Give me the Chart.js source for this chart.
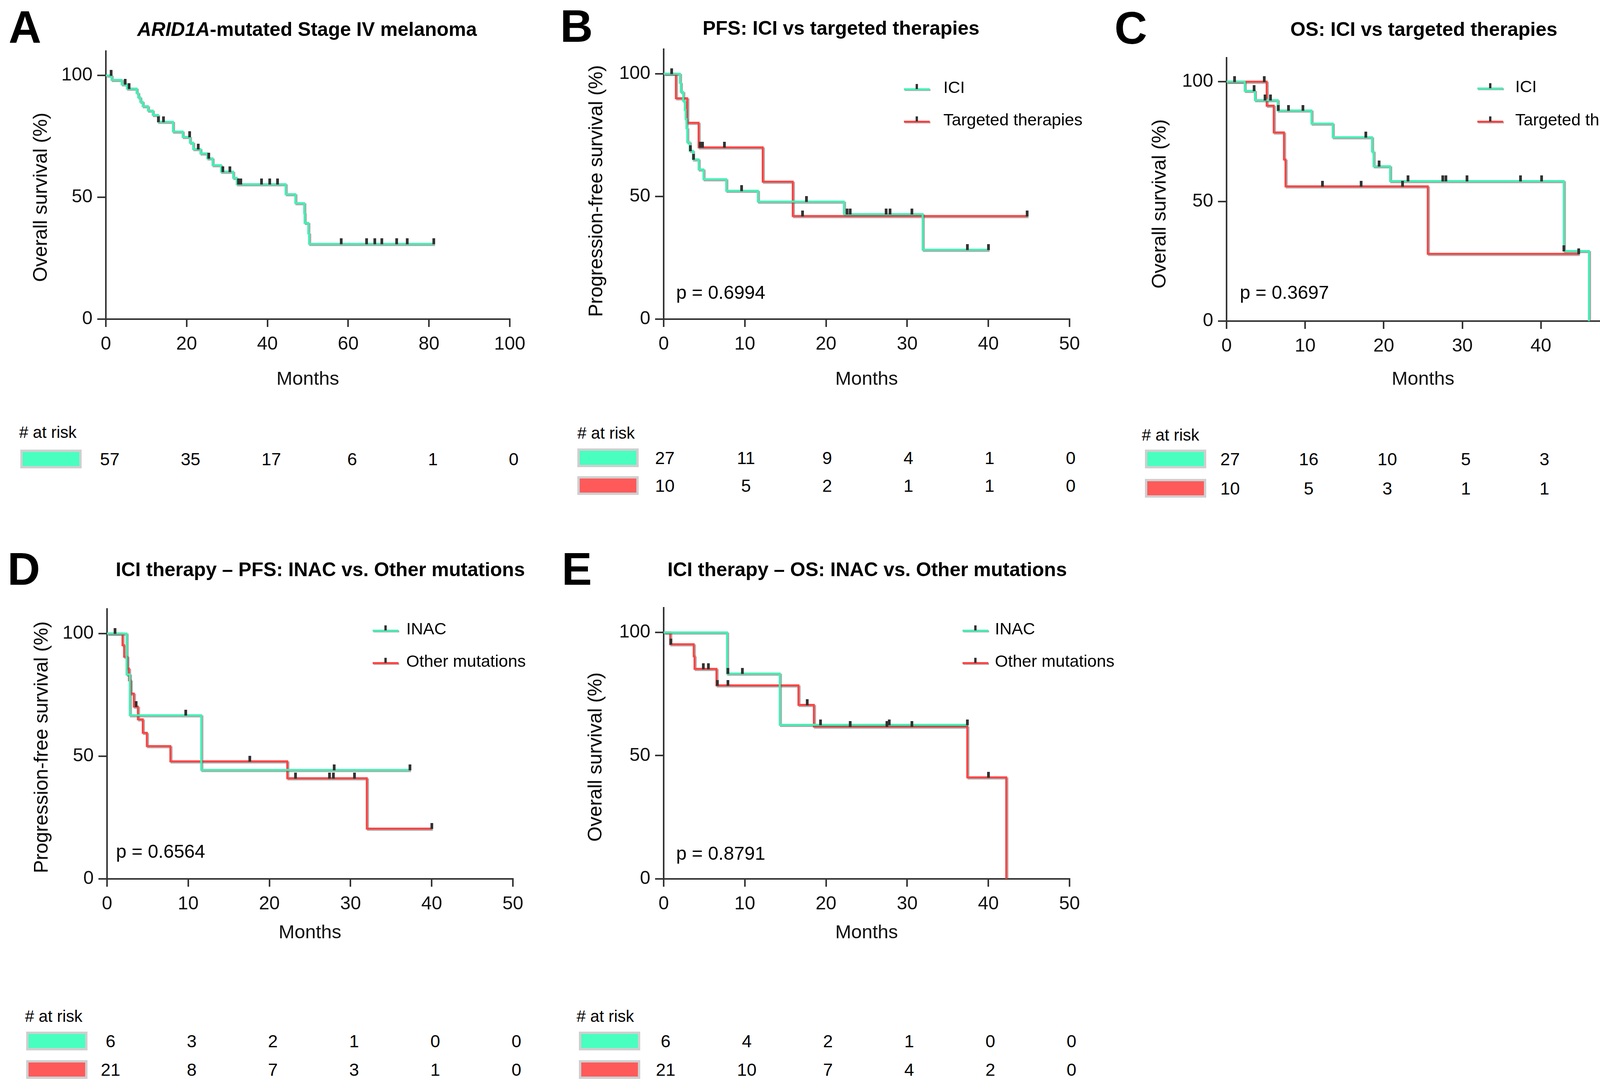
<!DOCTYPE html>
<html>
<head>
<meta charset="utf-8">
<script src="https://cdn.jsdelivr.net/npm/chart.js@4.4.1/dist/chart.umd.min.js"></script>
<style>
  html, body { margin: 0; padding: 0; background: #fff; }
  body { position: relative; width: 4255px; height: 2793px; overflow: hidden;
         font-family: "Liberation Sans", Arial, Helvetica, sans-serif; color: #000; }
  .box { position: absolute; }
  .t { position: absolute; line-height: 1; white-space: nowrap; }
</style>
</head>
<body>
<script>
/* Kaplan-Meier panels A-E, ARID1A melanoma */

// ─── Data (months / survival %) ───
// A: all patients, OS
const aTime = [0, 1.4, 3.9, 5.2, 7.6, 8.0, 8.5, 9.1, 10.4, 11.6, 12.9, 16.6, 19.0, 20.8, 21.6, 23.4, 25.1, 26.4, 28.5, 31.5, 32.4, 44.5, 46.9, 49.1, 49.2, 50.1, 50.3, 81.2];
const aSurv = [100, 98.2, 96.4, 94.6, 92.8, 91.0, 89.2, 87.4, 85.6, 83.8, 81.0, 77.0, 74.8, 72.4, 69.8, 68.0, 66.0, 63.2, 60.5, 58.0, 55.4, 51.3, 47.6, 43.5, 39.5, 35.2, 30.9, 30.9];
const aCens = [1.3, 4.8, 5.8, 13.0, 14.3, 20.7, 22.9, 25.5, 29.0, 30.7, 32.8, 33.4, 38.5, 40.6, 42.5, 58.3, 64.6, 66.6, 68.3, 72.0, 74.6, 81.2];

// B: PFS, ICI vs targeted
const bIciTime = [0, 2.0, 2.1, 2.4, 2.6, 2.7, 2.8, 2.9, 3.2, 3.6, 4.3, 4.9, 7.7, 11.6, 22.2, 31.9, 40.0];
const bIciSurv = [100, 96.3, 92.6, 88.9, 85.2, 81.5, 77.8, 72.1, 68.6, 65.1, 61.0, 57.0, 52.3, 47.9, 42.8, 28.3, 28.3];
const bIciCens = [1.0, 3.3, 3.7, 9.6, 17.6, 22.6, 23.0, 27.4, 27.9, 30.6, 37.4, 40.0];
const bTarTime = [0, 1.5, 2.9, 4.3, 12.2, 15.9, 44.8];
const bTarSurv = [100, 90, 80, 70, 56, 42, 42];
const bTarCens = [4.5, 4.8, 7.5, 17.1, 44.8];

// C: OS, ICI vs targeted
const cIciTime = [0, 2.3, 3.6, 6.5, 10.8, 13.5, 18.5, 18.7, 20.8, 42.9, 46.1];
const cIciSurv = [100, 96.2, 92.3, 88.0, 82.5, 76.8, 70.8, 64.7, 58.5, 29.3, 0];
const cIciCens = [1.0, 3.5, 4.9, 5.6, 6.6, 7.9, 9.7, 17.7, 19.4, 23.1, 27.5, 27.9, 30.6, 37.4, 40.1, 42.9];
const cTarTime = [0, 5.1, 6.0, 7.3, 7.5, 25.6, 44.8];
const cTarSurv = [100, 90, 78.8, 67.5, 56.3, 28.1, 28.1];
const cTarCens = [4.8, 12.2, 17.1, 22.4, 44.8];

// D: ICI PFS, INAC vs other mutations
const dInacTime = [0, 2.4, 2.8, 11.6, 37.3];
const dInacSurv = [100, 83.3, 66.7, 44.4, 44.4];
const dInacCens = [1.0, 9.7, 28.0, 37.3];
const dOthTime = [0, 1.9, 2.1, 2.5, 2.7, 2.9, 3.3, 3.8, 4.4, 4.9, 7.8, 22.2, 32.0, 40.0];
const dOthSurv = [100, 95.2, 90.5, 85.7, 80.9, 75.5, 70.2, 65.0, 59.5, 54.1, 47.9, 41.0, 20.5, 20.5];
const dOthCens = [3.6, 17.6, 23.2, 27.4, 27.9, 30.5, 40.0];

// E: ICI OS, INAC vs other mutations
const eInacTime = [0, 7.8, 14.3, 37.4];
const eInacSurv = [100, 83.3, 62.5, 62.5];
const eInacCens = [7.9, 9.7, 19.3, 27.8, 37.4];
const eOthTime = [0, 0.8, 3.7, 3.8, 6.5, 16.6, 18.5, 37.4, 42.2];
const eOthSurv = [100, 95.2, 90.3, 85.2, 78.5, 70.6, 61.8, 41.2, 0];
const eOthCens = [0.9, 4.9, 5.5, 6.6, 7.9, 17.7, 23.0, 27.5, 30.6, 40.0];

// numbers at risk (one value per x tick)
const riskA  = [57, 35, 17, 6, 1, 0];
const riskB1 = [27, 11, 9, 4, 1, 0];
const riskB2 = [10, 5, 2, 1, 1, 0];
const riskC1 = [27, 16, 10, 5, 3, 0];
const riskC2 = [10, 5, 3, 1, 1, 0];
const riskD1 = [6, 3, 2, 1, 0, 0];
const riskD2 = [21, 8, 7, 3, 1, 0];
const riskE1 = [6, 4, 2, 1, 0, 0];
const riskE2 = [21, 10, 7, 4, 2, 0];

const yTicks = [0, 50, 100];

// ─── Style ───
const FONT = '"Liberation Sans", Arial, Helvetica, sans-serif';
const GREEN = '#44f0b4', RED = '#ff4343';
const GREEN_SW = '#48ffc0', RED_SW = '#ff5a5a';
const AXIS = '#333';

// censor mark: short vertical bar sitting on the line
const tickImg = document.createElement('canvas');
tickImg.width = 7; tickImg.height = 28;
(function () {
  const c = tickImg.getContext('2d');
  c.fillStyle = '#333';
  c.fillRect(0, 0, 7, 15);
})();

// grey drop shadow under the curves
const shadowPlugin = {
  id: 'kmShadow',
  beforeDatasetDraw(chart, args) {
    if (!chart.data.datasets[args.index].shadow) return;
    const ctx = chart.ctx;
    ctx.save();
    ctx.shadowColor = 'rgba(95,95,95,0.55)';
    ctx.shadowOffsetX = 3;
    ctx.shadowOffsetY = 3;
    ctx.shadowBlur = 1;
  },
  afterDatasetDraw(chart, args) {
    if (chart.data.datasets[args.index].shadow) chart.ctx.restore();
  }
};

// ─── Helpers ───
function survAt(times, surv, t) {
  let v = surv[0];
  for (let i = 0; i < times.length; i++) if (times[i] <= t) v = surv[i];
  return v;
}

function txt(html, x, y, o = {}) {
  const d = document.createElement('div');
  d.className = 't';
  d.innerHTML = html;
  let tf = o.center ? 'translate(-50%,-50%)' : 'translateY(-50%)';
  if (o.rot) tf = 'translate(-50%,-50%) rotate(-90deg)';
  d.style.left = x + 'px';
  d.style.top = y + 'px';
  d.style.fontSize = (o.size || 48) + 'px';
  d.style.fontWeight = o.bold ? 'bold' : 'normal';
  d.style.transform = tf;
  document.body.appendChild(d);
}

function rect(x, y, w, h, bg, extra) {
  const d = document.createElement('div');
  d.className = 'box';
  d.style.cssText += `left:${x}px;top:${y}px;width:${w}px;height:${h}px;background:${bg};` + (extra || '');
  document.body.appendChild(d);
  return d;
}

function legend(x, tx, items) {
  items.forEach(it => {
    rect(x, it.y - 2.5, 66, 5, it.color, 'box-shadow:2px 2px 0 rgba(95,95,95,0.5);');
    rect(x + 30, it.y - 13, 6, 13, '#333');
    txt(it.label, tx, it.y - 5, { size: 43 });
  });
}

function swatch(x, cy, color) {
  const o = rect(x, cy - 24, 157, 48, '#cfcfcf');
  const i = document.createElement('div');
  i.style.cssText = `position:absolute;left:6px;top:6px;right:6px;bottom:6px;background:${color};`;
  o.appendChild(i);
}

// ─── Panel ───
function makePanel(p) {
  const YW = 150, PT = 40, PR = 70;
  const XH = p.gap + 29.4;
  const a = p.area;
  const left = a.l - YW, top = a.t - PT;

  const box = rect(left, top, a.r - a.l + YW + PR, a.b - a.t + PT + XH, 'transparent');
  const cv = document.createElement('canvas');
  box.appendChild(cv);

  const datasets = [];
  p.curves.forEach(cu => {
    datasets.push({
      data: cu.cens.map(c => ({ x: c, y: survAt(cu.time, cu.surv, c) })),
      showLine: false, pointStyle: tickImg, pointRadius: 3, order: 0
    });
  });
  p.curves.forEach((cu, i) => {
    datasets.push({
      data: cu.time.map((t, k) => ({ x: t, y: cu.surv[k] })),
      borderColor: cu.color, borderWidth: 5, stepped: true,
      pointRadius: 0, fill: false, shadow: true, order: 1 + i,
      borderCapStyle: 'butt', borderJoinStyle: 'miter'
    });
  });

  const chart = new Chart(cv, {
    type: 'line',
    data: { datasets },
    plugins: [shadowPlugin],
    options: {
      responsive: true, maintainAspectRatio: false, animation: false,
      devicePixelRatio: 1, events: [],
      layout: { padding: { top: PT, right: PR, left: 0, bottom: 0 } },
      plugins: { legend: { display: false }, tooltip: { enabled: false } },
      scales: {
        x: {
          type: 'linear', min: 0, max: p.xMax,
          ticks: { stepSize: p.xStep, color: '#111', font: { size: 48, family: FONT },
                   padding: 16, maxRotation: 0, autoSkip: false },
          grid: { display: true, drawOnChartArea: false, drawTicks: true, tickLength: 20,
                  color: AXIS, lineWidth: 4 },
          border: { display: true, color: AXIS, width: 4 },
          title: { display: true, text: 'Months', color: '#111',
                   font: { size: 49, family: FONT }, padding: 0 },
          afterFit: s => { s.height = XH; }
        },
        y: {
          type: 'linear', min: 0, max: 110,
          afterBuildTicks: s => { s.ticks = yTicks.map(v => ({ value: v })); },
          ticks: { color: '#111', font: { size: 48, family: FONT }, padding: 12 },
          grid: { display: true, drawOnChartArea: false, drawTicks: true, tickLength: 22,
                  color: AXIS, lineWidth: 4 },
          border: { display: true, color: AXIS, width: 4 },
          afterFit: s => { s.width = YW; }
        }
      }
    }
  });

  // text around the plot
  txt(p.letter, p.letterPos[0], p.letterPos[1], { size: 116, bold: true });
  txt(p.title, p.titlePos[0], p.titlePos[1], { size: 50, bold: true, center: true });
  txt(p.yTitle, p.yTitlePos[0], p.yTitlePos[1], { size: 50, rot: true });
  if (p.legend) legend(p.legend.x, p.legend.tx, p.legend.items);
  if (p.pval) txt(p.pval.text, p.pval.x, p.pval.y, { size: 48 });

  // numbers at risk, aligned on the x ticks
  const r = p.risk;
  txt('# at risk', r.hx, r.hy, { size: 42 });
  r.rows.forEach(row => {
    swatch(r.sx, row.y, row.color);
    row.vals.forEach((v, k) => {
      const px = left + chart.scales.x.getPixelForValue(k * p.xStep) + r.off;
      txt(String(v), px, row.y, { size: 45, center: true });
    });
  });
  return chart;
}

// ─── Build ───
makePanel({
  area: { l: 271, r: 1305, t: 130, b: 817 }, xMax: 100, xStep: 20, gap: 154,
  curves: [{ time: aTime, surv: aSurv, cens: aCens, color: GREEN }],
  letter: 'A', letterPos: [22, 70],
  title: '<i>ARID1A</i>-mutated Stage IV melanoma', titlePos: [786, 75],
  yTitle: 'Overall survival (%)', yTitlePos: [103, 505],
  risk: { hx: 49, hy: 1107, sx: 52, off: 10,
          rows: [{ vals: riskA, color: GREEN_SW, y: 1175 }] }
});

makePanel({
  area: { l: 1699, r: 2738, t: 125, b: 817 }, xMax: 50, xStep: 10, gap: 154,
  curves: [{ time: bIciTime, surv: bIciSurv, cens: bIciCens, color: GREEN },
           { time: bTarTime, surv: bTarSurv, cens: bTarCens, color: RED }],
  letter: 'B', letterPos: [1434, 67],
  title: 'PFS: ICI vs targeted therapies', titlePos: [2153, 72],
  yTitle: 'Progression-free survival (%)', yTitlePos: [1525, 489],
  legend: { x: 2314, tx: 2415, items: [{ y: 228, label: 'ICI', color: GREEN },
                                       { y: 311, label: 'Targeted therapies', color: RED }] },
  pval: { text: 'p = 0.6994', x: 1731, y: 749 },
  risk: { hx: 1478, hy: 1109, sx: 1478, off: 3,
          rows: [{ vals: riskB1, color: GREEN_SW, y: 1172 },
                 { vals: riskB2, color: RED_SW, y: 1243 }] }
});

makePanel({
  area: { l: 3140, r: 4146, t: 147, b: 822 }, xMax: 50, xStep: 10, gap: 149,
  curves: [{ time: cIciTime, surv: cIciSurv, cens: cIciCens, color: GREEN },
           { time: cTarTime, surv: cTarSurv, cens: cTarCens, color: RED }],
  letter: 'C', letterPos: [2853, 72],
  title: 'OS: ICI vs targeted therapies', titlePos: [3645, 75],
  yTitle: 'Overall survival (%)', yTitlePos: [2967, 522],
  legend: { x: 3782, tx: 3879, items: [{ y: 226, label: 'ICI', color: GREEN },
                                       { y: 311, label: 'Targeted therapies', color: RED }] },
  pval: { text: 'p = 0.3697', x: 3174, y: 749 },
  risk: { hx: 2923, hy: 1114, sx: 2931, off: 9,
          rows: [{ vals: riskC1, color: GREEN_SW, y: 1175 },
                 { vals: riskC2, color: RED_SW, y: 1250 }] }
});

makePanel({
  area: { l: 274, r: 1313, t: 1558, b: 2250 }, xMax: 50, xStep: 10, gap: 138,
  curves: [{ time: dInacTime, surv: dInacSurv, cens: dInacCens, color: GREEN },
           { time: dOthTime, surv: dOthSurv, cens: dOthCens, color: RED }],
  letter: 'D', letterPos: [19, 1457],
  title: 'ICI therapy – PFS: INAC vs. Other mutations', titlePos: [820, 1458],
  yTitle: 'Progression-free survival (%)', yTitlePos: [105, 1913],
  legend: { x: 954, tx: 1040, items: [{ y: 1614, label: 'INAC', color: GREEN },
                                      { y: 1697, label: 'Other mutations', color: RED }] },
  pval: { text: 'p = 0.6564', x: 297, y: 2180 },
  risk: { hx: 64, hy: 2602, sx: 67, off: 9,
          rows: [{ vals: riskD1, color: GREEN_SW, y: 2665 },
                 { vals: riskD2, color: RED_SW, y: 2738 }] }
});

makePanel({
  area: { l: 1699, r: 2738, t: 1555, b: 2250 }, xMax: 50, xStep: 10, gap: 138,
  curves: [{ time: eInacTime, surv: eInacSurv, cens: eInacCens, color: GREEN },
           { time: eOthTime, surv: eOthSurv, cens: eOthCens, color: RED }],
  letter: 'E', letterPos: [1438, 1457],
  title: 'ICI therapy – OS: INAC vs. Other mutations', titlePos: [2220, 1458],
  yTitle: 'Overall survival (%)', yTitlePos: [1523, 1938],
  legend: { x: 2464, tx: 2547, items: [{ y: 1614, label: 'INAC', color: GREEN },
                                       { y: 1697, label: 'Other mutations', color: RED }] },
  pval: { text: 'p = 0.8791', x: 1731, y: 2185 },
  risk: { hx: 1476, hy: 2602, sx: 1482, off: 5,
          rows: [{ vals: riskE1, color: GREEN_SW, y: 2665 },
                 { vals: riskE2, color: RED_SW, y: 2738 }] }
});
</script>
</body>
</html>
